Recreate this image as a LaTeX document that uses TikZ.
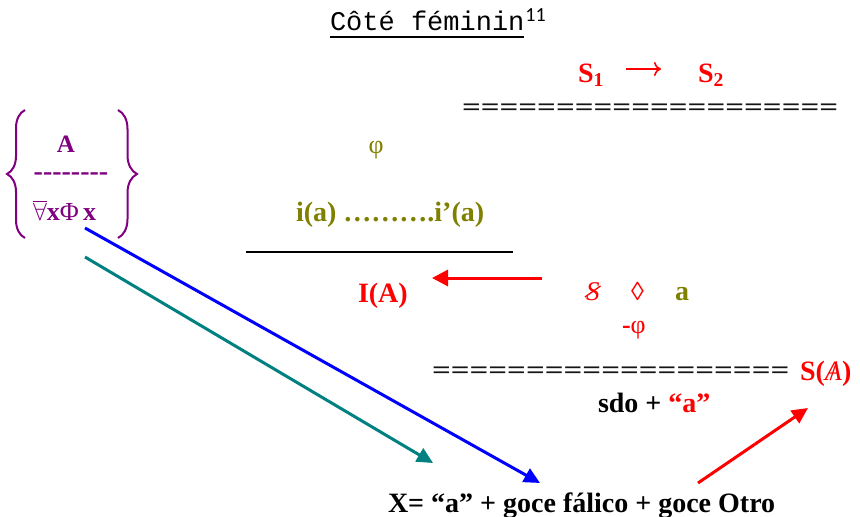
\documentclass[tikz,border=0pt]{standalone}
\usepackage{fontspec}
\setmainfont{Liberation Serif}
\newfontfamily\monof{Liberation Mono}
\newfontfamily\carl{Carlito}
\usetikzlibrary{arrows.meta,decorations.pathreplacing,calc}
\definecolor{olv}{RGB}{128,128,0}
\definecolor{purp}{RGB}{128,0,128}
\definecolor{tealc}{RGB}{0,128,128}
\newcommand\fs[1]{\fontsize{#1}{#1}\selectfont}
\newcommand\hy{-\kern0pt}
\newcommand\eqs[1]{\scalebox{1}[0.75]{#1}}
\tikzset{
  t/.style={inner sep=0pt,outer sep=0pt},
  tb/.style={t,font=\fs{28}\bfseries},
  tr/.style={t,font=\fs{28}},
  eqrow/.style={t,font=\fs{33}\bfseries,color=black!92},
  arr/.style={line width=3pt,-{Triangle[length=16pt,width=15pt]}},
  bracestyle/.style={purp,line width=2pt,decorate},
}
\begin{document}
\begin{tikzpicture}[x=1pt,y=-1pt]
\useasboundingbox (0,0) rectangle (860,517);
% title
\node[t,anchor=base west,font=\monof\fs{27}] (title) at (330,30) {Côté féminin};
\node[t,anchor=base west,font=\carl\fs{20}] (fn) at ($(title.base east)+(1,-9)$) {11};
\draw[line width=2pt] ($(title.base west)+(0,7)$) -- ($(title.base east)+(0,7)$);
% S1 -> S2
\node[tb,red,anchor=base west] (s1) at (578,82) {S\textsubscript{1}};
\node[tb,red,anchor=base west] (s2) at (698,82) {S\textsubscript{2}};
\draw[red,line width=1.6pt,-{To[length=7pt,width=14pt]}] ($(s1.base east)+(22,-13)$) -- ($(s2.base west)+(-37,-13)$);
\node[eqrow,anchor=west] (eq1) at (462,110) {\eqs{====================}};
% brace group
\draw[bracestyle,decoration={brace,amplitude=18pt}] (25,238) -- (25,110);
\draw[bracestyle,decoration={brace,amplitude=19pt}] (118,110) -- (118,238);
\node[t,purp,font=\fs{25}\bfseries,anchor=base] (bA) at (66,152) {A};
\node[t,purp,font=\fs{28}\bfseries,anchor=center] (bdash) at (71,177) {\hy\hy\hy\hy\hy\hy\hy\hy};
\node[t,purp,anchor=base west,font=\fs{26}] (bq) at (33,220) {$\overline{\forall}$\textbf{x}Φ\,\textbf{x}};
% phi and i(a)
\node[t,olv,font=\fs{26},anchor=base] (phi) at (376,153) {φ};
\node[tb,olv,anchor=base west] (ia) at (296,221) {i(a) ……….i’(a)};
\coordinate (barL) at (246,252);
\coordinate (barR) at (513,252);
\draw[line width=2pt] (barL) -- (barR);
% I(A) and arrow
\node[tb,red,anchor=base west] (IA) at (358,302) {I(A)};
\coordinate (lStart) at (542,278);
\coordinate (lEnd) at (432,278);
\draw[arr,red,-{Triangle[length=16pt,width=16pt]}] (lStart) -- (lEnd);
% barred S, lozenge, a
\node[t,red,font=\fs{27}\itshape,anchor=base west] (bs) at (586,300) {S};
\draw[red,line width=1.3pt] ($(bs.base west)+(-1,-3)$) -- ($(bs.base east)+(1,-14)$);
\node[t,red,font=\fs{26},anchor=base west] (loz) at (631,300) {◊};
\node[tb,olv,anchor=base west] (sa) at (675,300) {a};
\node[t,red,anchor=base west,font=\fs{26}] (mphi) at (622,333) {\textbf{-}φ};
% second row
\node[eqrow,anchor=west] (eq2) at (432,373) {\eqs{===================}};
\node[tb,red,anchor=base west] (SA) at (800,380) {S(\ooalign{\textit{\mdseries A}\cr\hidewidth\mdseries /\hidewidth})};
\node[tb,anchor=base west] (sdo) at (598,412) {sdo + \textcolor{red}{“a”}};
% bottom line
\node[tb,anchor=base west] (X) at (388,512) {X= “a” + goce fálico + goce Otro};
% arrows
\coordinate (bStart) at (85,228);
\coordinate (bEnd) at (540,483);
\coordinate (tStart) at (85,257);
\coordinate (tEnd) at (433,463);
\coordinate (rStart) at (698,483);
\coordinate (rEnd) at (808,408);
\draw[arr,blue] (bStart) -- (bEnd);
\draw[arr,tealc] (tStart) -- (tEnd);
\draw[arr,red] (rStart) -- (rEnd);
\end{tikzpicture}
\end{document}
